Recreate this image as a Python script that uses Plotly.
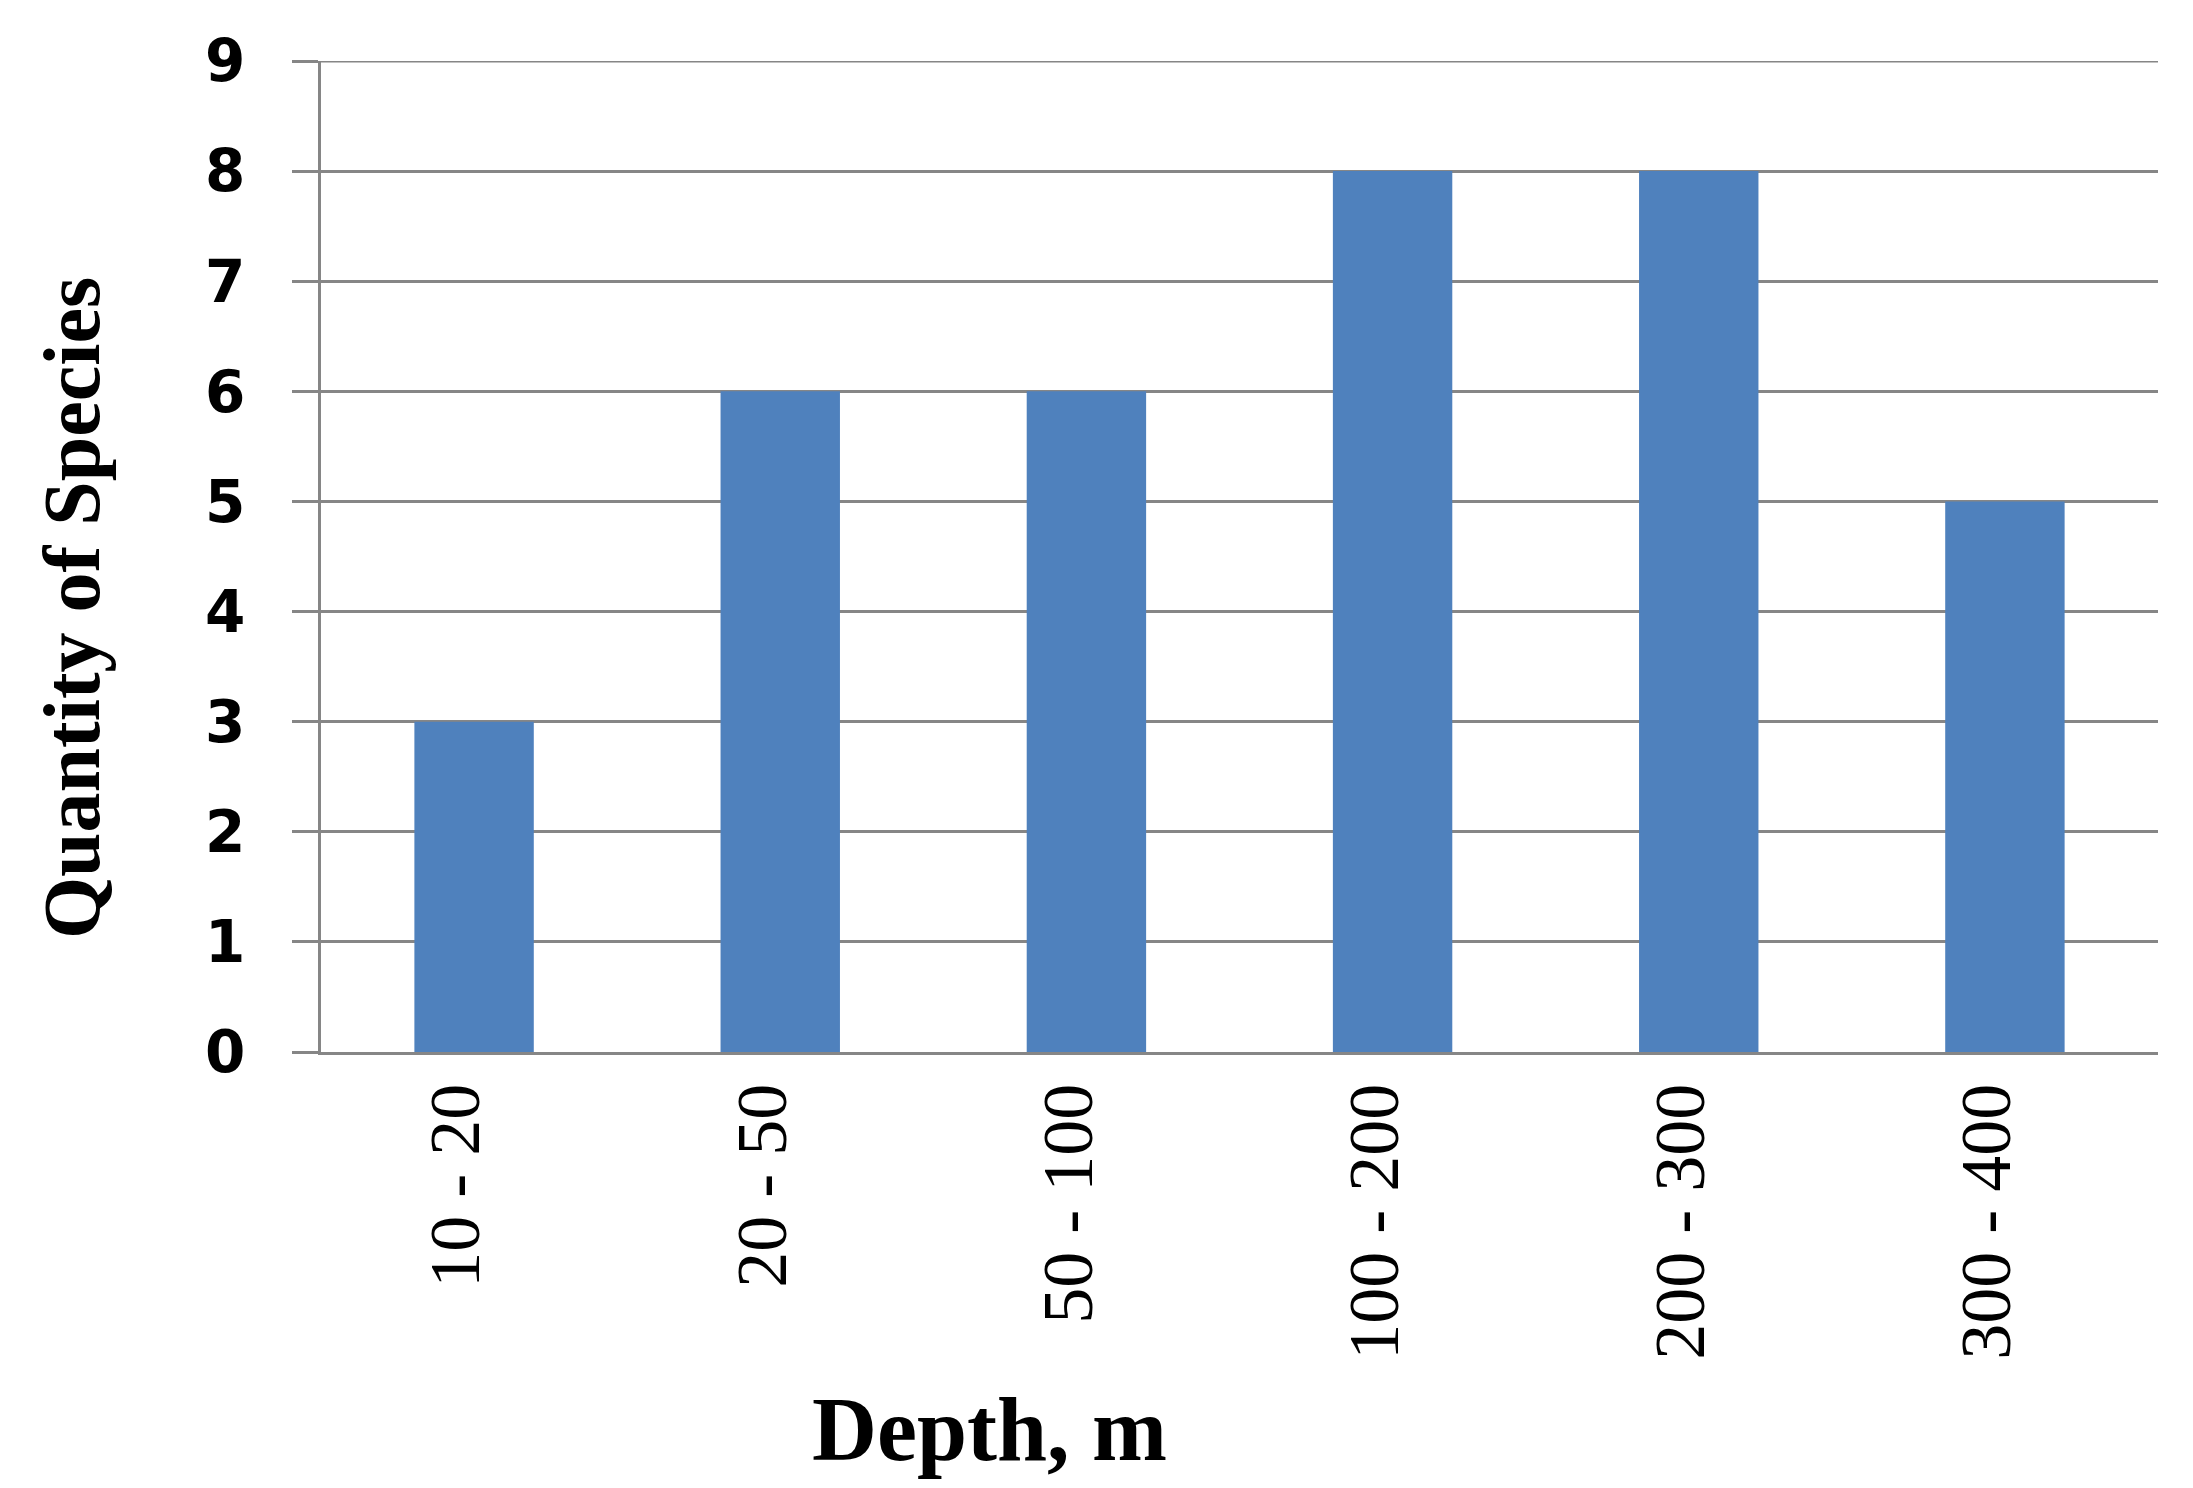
import plotly.graph_objects as go

depth_ranges = ["10 - 20", "20 - 50", "50 - 100", "100 - 200", "200 - 300", "300 - 400"]
species_count = [3, 6, 6, 8, 8, 5]
y_ticks = list(range(0, 10))

grid_grey = "#868686"

fig = go.Figure()
fig.add_trace(go.Bar(
    x=depth_ranges,
    y=species_count,
    marker=dict(color="#4F81BD", line=dict(width=0)),
    showlegend=False,
))

# plotly drops the gridline sitting on the top edge, so draw it explicitly
fig.add_shape(type="line", xref="paper", yref="y",
              x0=0, x1=1, y0=y_ticks[-1], y1=y_ticks[-1],
              line=dict(color=grid_grey, width=3), layer="below")

fig.update_layout(
    width=2193, height=1488,
    margin=dict(l=313, r=43, t=53, b=444),
    plot_bgcolor="white", paper_bgcolor="white",
    bargap=0.61,
    xaxis=dict(
        type="category",
        tickangle=-90,
        tickfont=dict(family="Liberation Serif", size=72, color="black"),
        ticklabelshift=-18,
        showline=True, linecolor=grid_grey, linewidth=3,
        showgrid=False, ticks="",
        automargin=False,
    ),
    yaxis=dict(
        range=[0, 9],
        tickvals=y_ticks,
        tickfont=dict(family="DejaVu Sans", size=58, color="black", weight="bold"),
        showgrid=True, gridcolor=grid_grey, gridwidth=3,
        showline=True, linecolor=grid_grey, linewidth=3,
        ticks="outside", ticklen=26, tickwidth=3, tickcolor=grid_grey,
        ticklabelstandoff=35,
        zeroline=False,
        automargin=False,
    ),
    annotations=[
        dict(text="Quantity of Species", textangle=-90,
             xref="paper", yref="paper", x=-0.1355, y=0.448,
             xanchor="center", yanchor="middle", showarrow=False,
             font=dict(family="Liberation Serif", size=80, color="black", weight="bold")),
        dict(text="Depth, m",
             xref="paper", yref="paper", x=0.364, y=-0.381,
             xanchor="center", yanchor="middle", showarrow=False,
             font=dict(family="Liberation Serif", size=90, color="black", weight="bold")),
    ],
)

fig.write_html("out.html")
